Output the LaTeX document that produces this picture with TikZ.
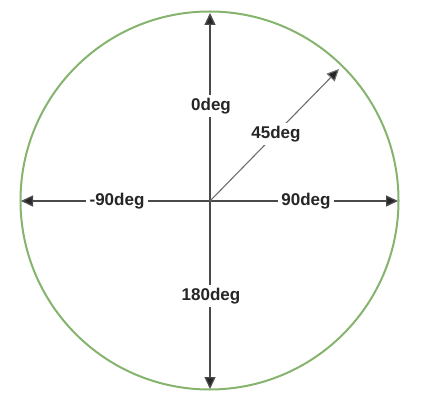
\documentclass[tikz,border=0pt]{standalone}
\usepackage{fontspec}
\setmainfont{Liberation Sans}
\usetikzlibrary{arrows.meta}
\definecolor{ringgreen}{HTML}{86B46E}
\definecolor{axisgray}{HTML}{4A4A4A}
\definecolor{diaggray}{HTML}{6E6E6E}
\begin{document}
\begin{tikzpicture}[x=1pt,y=-1pt,
  axis/.style={draw=axisgray,line width=1.4pt,-{Triangle[length=12pt,width=11pt,fill=black!85]}},
  diag/.style={draw=diaggray,line width=1.1pt,-{Triangle[length=12pt,width=11pt,fill=black!85]}},
  lbl/.style={fill=white,inner xsep=3.5pt,inner ysep=3pt,font=\bfseries\fontsize{17}{20}\selectfont,text=black!85}]
\useasboundingbox (0,0) rectangle (427,403);
\node[draw=ringgreen,line width=2pt,circle,minimum size=378pt,inner sep=0pt] (ring) at (209.5,200.5) {};
\coordinate (O) at (210,201);
\coordinate (top) at (210,13);
\coordinate (bot) at (210,389);
\coordinate (lft) at (21,201);
\coordinate (rgt) at (398,201);
\coordinate (ne) at (339,69);
\draw[axis] (O) -- (top);
\draw[axis] (O) -- (bot);
\draw[axis] (O) -- (lft);
\draw[axis] (O) -- (rgt);
\draw[diag] (O) -- (ne);
\node[lbl] (l0) at (211,106) {0deg};
\node[lbl] (l45) at (276,134) {45deg};
\node[lbl] (lm90) at (117,201) {-90deg};
\node[lbl] (l90) at (306,201) {90deg};
\node[lbl] (l180) at (211,296) {180deg};
\end{tikzpicture}
\end{document}
